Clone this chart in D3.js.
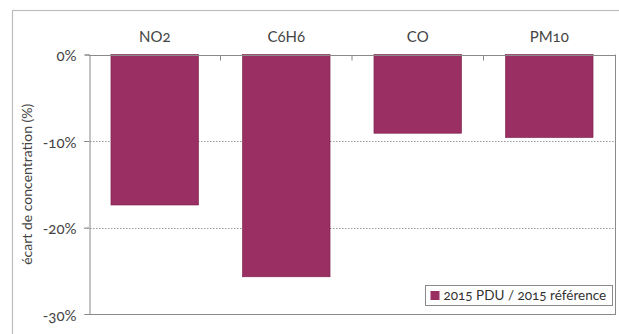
<!DOCTYPE html>
<html>
<head>
<meta charset="utf-8">
<script src="https://cdn.jsdelivr.net/npm/d3@7"></script>
<style>
  html, body { margin: 0; padding: 0; background: #fff; }
  svg { display: block; font-family: Lato, "Open Sans", sans-serif; font-variant-numeric: oldstyle-nums; }
</style>
</head>
<body>
<svg id="chart" width="619" height="334"></svg>
<script>
// Pollutant categories and relative concentration change (%)
const categories = ["NO2", "C6H6", "CO", "PM10"];
const values = [-17.4, -25.7, -9.1, -9.6];
const yTicks = [0, -10, -20, -30];
const seriesName = "2015 PDU / 2015 référence";
const yTitle = "écart de concentration (%)";

const svg = d3.select("#chart");
const W = 619, H = 334;
const plot = { left: 89, right: 615, top: 54.5, bottom: 314 };
const barColor = "#992f62";
const axisColor = "#8a8a8a";

// outer chart frame
svg.append("rect")
  .attr("x", 12.5).attr("y", 10.5)
  .attr("width", W + 10).attr("height", H + 10)
  .attr("fill", "none").attr("stroke", "#bdbdbd").attr("stroke-width", 1.2);

const x = d3.scaleBand()
  .domain(categories)
  .range([plot.left, plot.right])
  .paddingInner(0.334)
  .paddingOuter(0.167);

const y = d3.scaleLinear()
  .domain([0, -30])
  .range([plot.top, plot.bottom]);

// dotted gridlines
svg.append("g")
  .selectAll("line")
  .data(yTicks.filter(d => d !== 0 && d !== -30))
  .join("line")
  .attr("x1", plot.left - 5).attr("x2", plot.right)
  .attr("y1", d => Math.round(y(d)) + 0.5).attr("y2", d => Math.round(y(d)) + 0.5)
  .attr("stroke", "#9a9a9a").attr("stroke-width", 1)
  .attr("stroke-dasharray", "1.5,1.5");

// bars hang from 0%
svg.append("g")
  .selectAll("rect")
  .data(values)
  .join("rect")
  .attr("x", (d, i) => x(categories[i]))
  .attr("y", y(0))
  .attr("width", x.bandwidth())
  .attr("height", d => y(d) - y(0))
  .attr("fill", barColor)
  .attr("stroke", "#7a2049").attr("stroke-width", 0.6);

// plot frame: right and bottom edges
svg.append("line")
  .attr("x1", plot.right + 0.5).attr("x2", plot.right + 0.5)
  .attr("y1", plot.top).attr("y2", plot.bottom)
  .attr("stroke", axisColor);
svg.append("line")
  .attr("x1", plot.left).attr("x2", plot.right + 1)
  .attr("y1", Math.round(y(-30)) + 0.5).attr("y2", Math.round(y(-30)) + 0.5)
  .attr("stroke", axisColor);

// y axis
const yAxis = d3.axisLeft(y)
  .tickValues(yTicks)
  .tickSize(5)
  .tickPadding(8)
  .tickFormat(d => d + "%");
const gy = svg.append("g")
  .attr("transform", `translate(${plot.left + 0.5},0)`)
  .call(yAxis);
gy.select(".domain").attr("stroke", axisColor);
gy.selectAll(".tick line").attr("stroke", axisColor);
gy.selectAll(".tick text")
  .attr("fill", "#444").attr("dy", "0.4em").style("font-size", "15px")
  .style("font-family", "Lato, 'Open Sans', sans-serif");

// category axis along 0%, with ticks between bands
const gx = svg.append("g")
  .attr("transform", `translate(0,${Math.round(y(0)) + 0.5})`);
gx.append("line")
  .attr("x1", plot.left).attr("x2", plot.right + 1)
  .attr("stroke", axisColor);
const bounds = categories.slice(1).map(c => x(c) - x.step() * x.paddingInner() / 2);
gx.selectAll("line.sep")
  .data(bounds)
  .join("line")
  .attr("class", "sep")
  .attr("x1", d => d).attr("x2", d => d)
  .attr("y1", 0).attr("y2", 5)
  .attr("stroke", axisColor);

// category labels above the plot
svg.append("g")
  .selectAll("text")
  .data(categories)
  .join("text")
  .attr("x", d => x(d) + x.bandwidth() / 2)
  .attr("y", 42)
  .attr("text-anchor", "middle")
  .attr("fill", "#444")
  .style("font-size", "15px")
  .text(d => d);

// y axis title
svg.append("text")
  .attr("transform", `translate(32,${(plot.top + plot.bottom) / 2}) rotate(-90)`)
  .attr("text-anchor", "middle")
  .attr("fill", "#444")
  .style("font-size", "14px")
  .text(yTitle);

// legend
const lg = svg.append("g").attr("transform", "translate(425.5,285.5)");
lg.append("rect")
  .attr("width", 187).attr("height", 20)
  .attr("fill", "#fff").attr("stroke", "#8a8a8a");
lg.append("rect")
  .attr("x", 5).attr("y", 5.5).attr("width", 9).attr("height", 9)
  .attr("fill", barColor);
lg.append("text")
  .attr("x", 18).attr("y", 14.5)
  .attr("fill", "#333")
  .style("font-size", "13.5px")
  .text(seriesName);
</script>
</body>
</html>
